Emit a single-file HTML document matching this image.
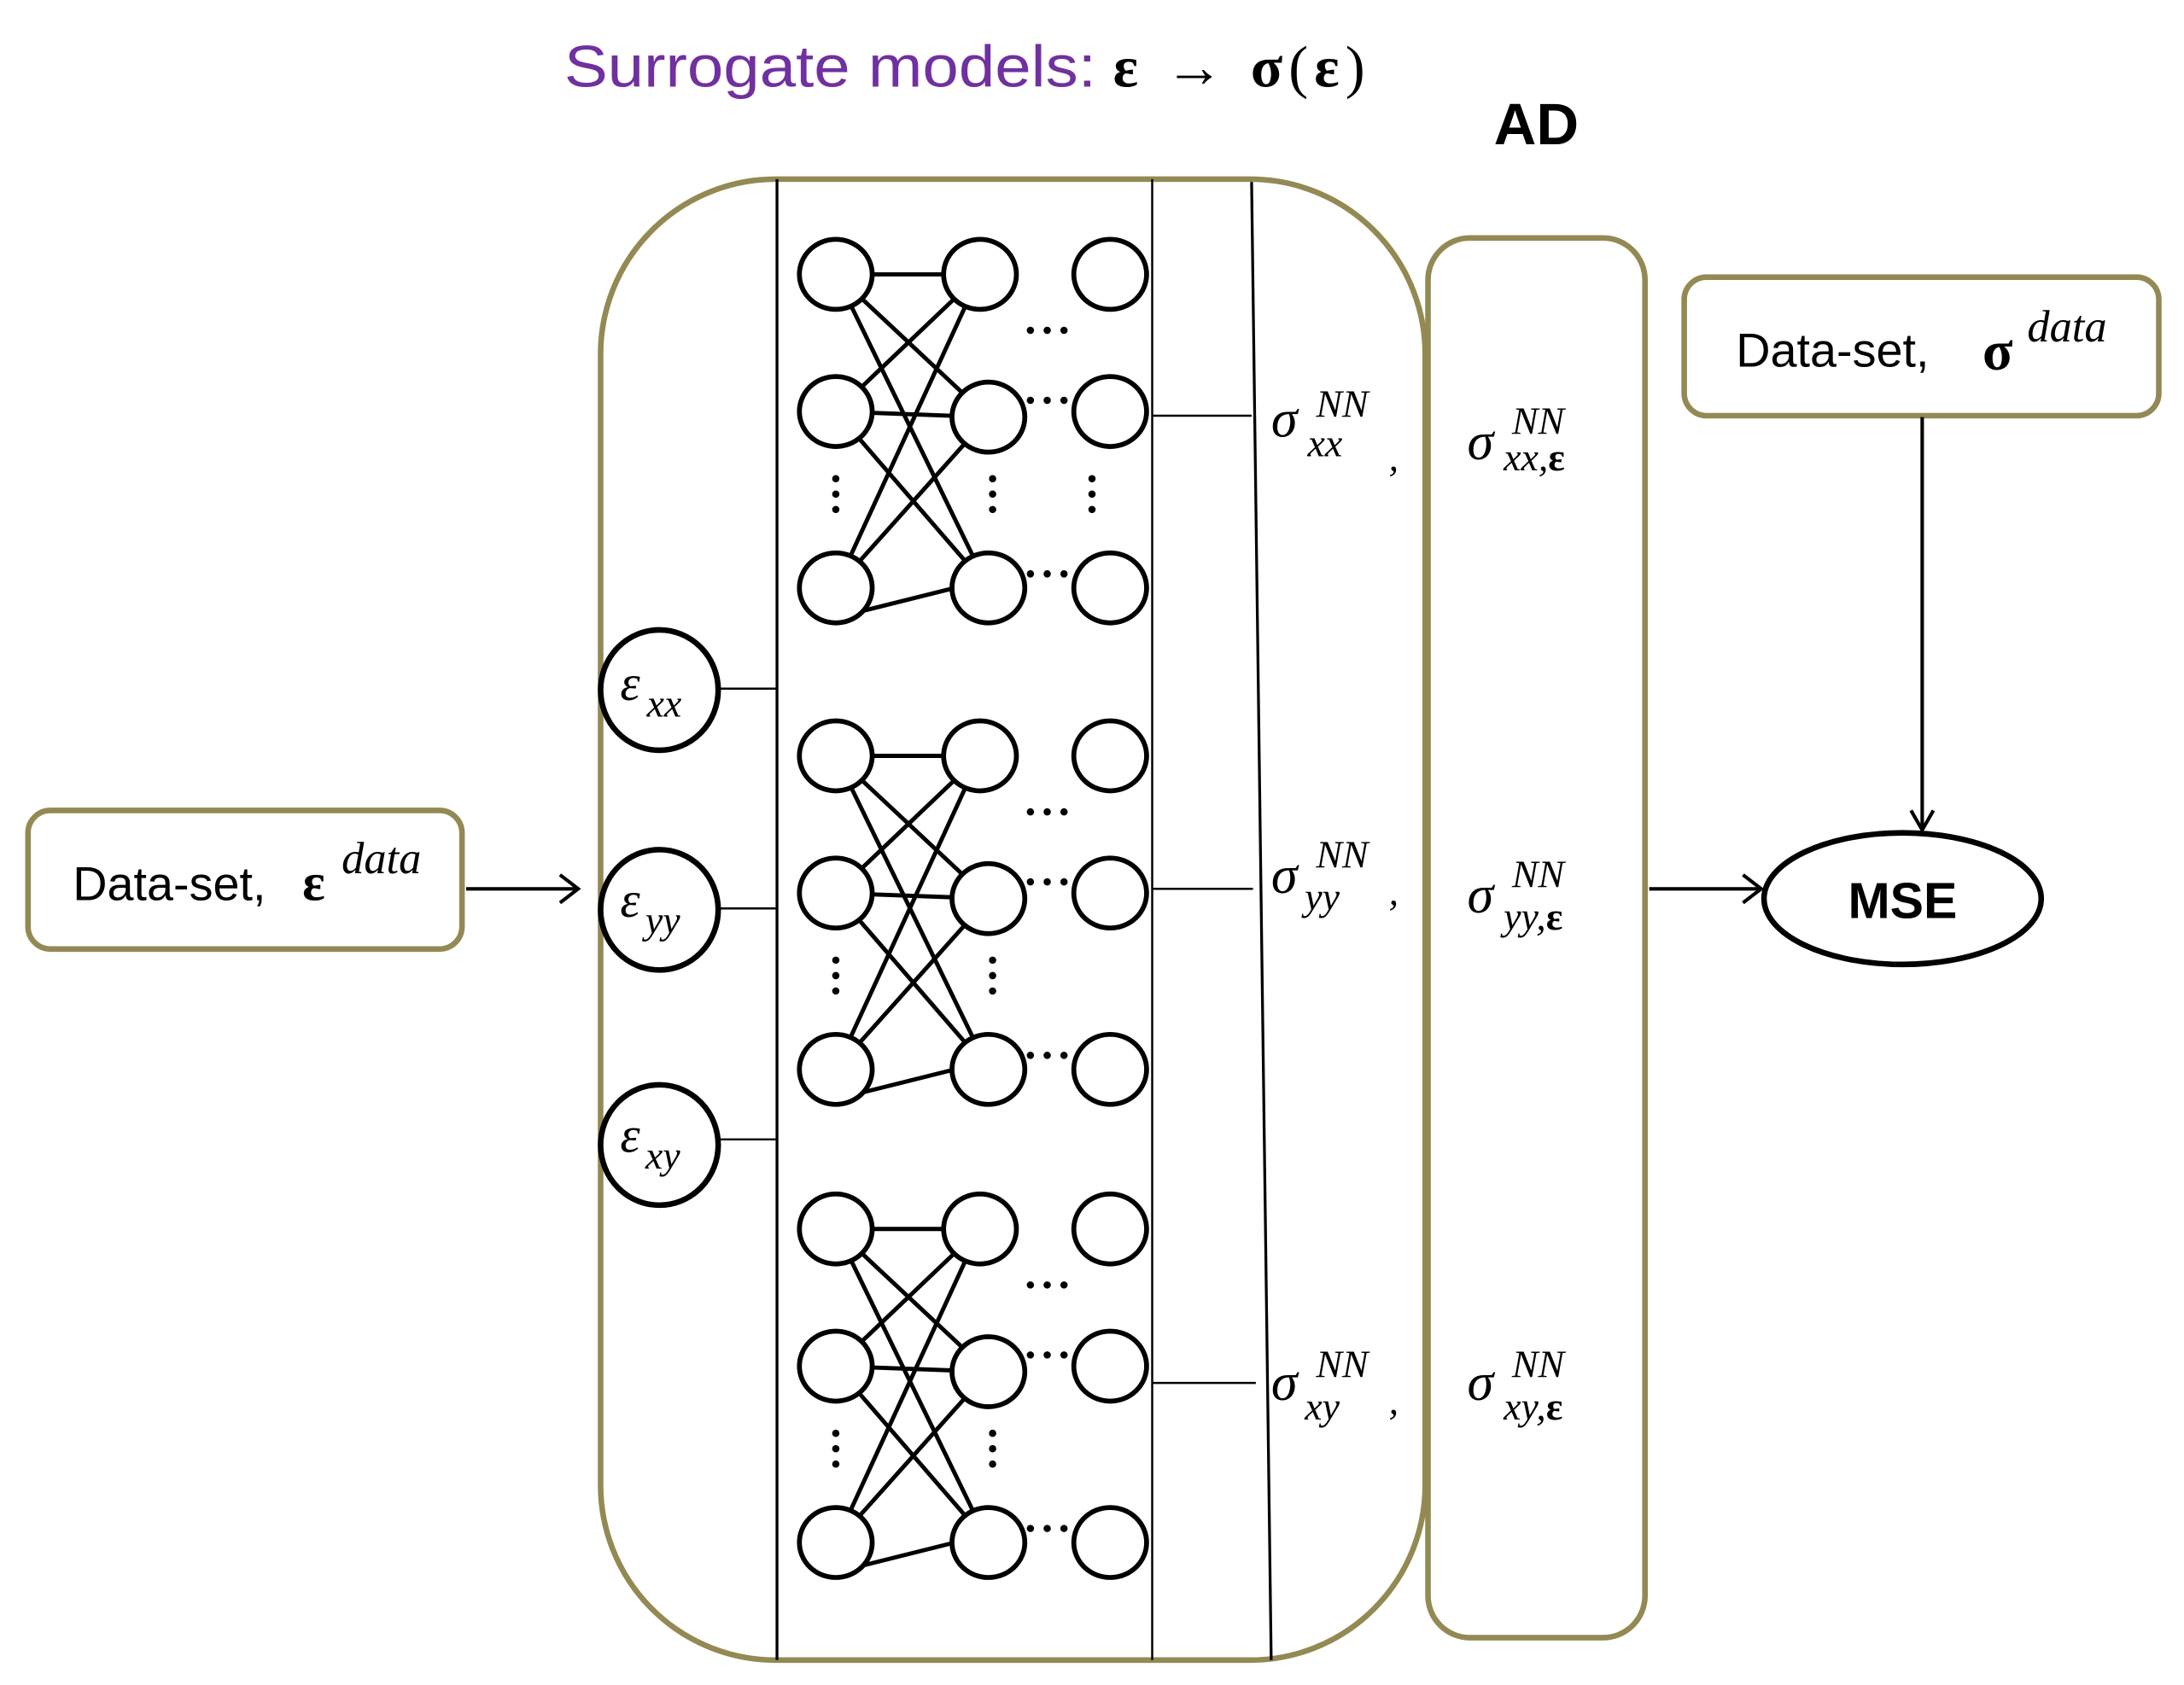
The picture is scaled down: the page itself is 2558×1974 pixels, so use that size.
<!DOCTYPE html>
<html><head><meta charset="utf-8"><style>
html,body{margin:0;padding:0;background:#fff;}
svg{display:block;}
</style></head><body>
<svg width="2558" height="1974" viewBox="0 0 1560 1203.8" preserveAspectRatio="none" xmlns="http://www.w3.org/2000/svg">
<defs>
<g id="net">
 <g stroke="#000" stroke-width="3">
  <line x1="597" y1="196" x2="700" y2="196"/>
  <line x1="597" y1="196" x2="706" y2="298"/>
  <line x1="597" y1="196" x2="706" y2="420"/>
  <line x1="597" y1="294" x2="700" y2="196"/>
  <line x1="597" y1="294" x2="706" y2="298"/>
  <line x1="597" y1="294" x2="706" y2="420"/>
  <line x1="597" y1="420" x2="700" y2="196"/>
  <line x1="597" y1="420" x2="706" y2="298"/>
  <line x1="610" y1="438" x2="706" y2="414"/>
 </g>
 <g fill="#fff" stroke="#000" stroke-width="3.5">
  <ellipse cx="597" cy="196" rx="26" ry="25"/>
  <ellipse cx="700" cy="196" rx="26" ry="25"/>
  <ellipse cx="793" cy="196" rx="26" ry="25"/>
  <ellipse cx="597" cy="294" rx="26" ry="25"/>
  <ellipse cx="706" cy="298" rx="26" ry="25"/>
  <ellipse cx="793" cy="294" rx="26" ry="25"/>
  <ellipse cx="597" cy="420" rx="26" ry="25"/>
  <ellipse cx="706" cy="420" rx="26" ry="25"/>
  <ellipse cx="793" cy="420" rx="26" ry="25"/>
 </g>
 <g fill="#000">
  <circle cx="736" cy="236" r="2.6"/><circle cx="748" cy="236" r="2.6"/><circle cx="760" cy="236" r="2.6"/>
  <circle cx="736" cy="286" r="2.6"/><circle cx="748" cy="286" r="2.6"/><circle cx="760" cy="286" r="2.6"/>
  <circle cx="736" cy="410" r="2.6"/><circle cx="748" cy="410" r="2.6"/><circle cx="760" cy="410" r="2.6"/>
  <circle cx="597" cy="342" r="2.6"/><circle cx="597" cy="353" r="2.6"/><circle cx="597" cy="364" r="2.6"/>
  <circle cx="709" cy="342" r="2.6"/><circle cx="709" cy="353" r="2.6"/><circle cx="709" cy="364" r="2.6"/>
 </g>
</g>
</defs>

<!-- title -->
<text x="403" y="62" font-family="Liberation Sans, sans-serif" font-size="42" fill="#7030A0" textLength="380" lengthAdjust="spacingAndGlyphs">Surrogate models:</text>
<text x="795" y="62" font-family="Liberation Serif, serif" font-size="42" fill="#000" textLength="180" lengthAdjust="spacing"><tspan font-weight="bold">ε</tspan> → <tspan font-weight="bold">σ</tspan>(<tspan font-weight="bold">ε</tspan>)</text>
<text x="1067" y="103" font-family="Liberation Sans, sans-serif" font-size="42" font-weight="bold" fill="#000">AD</text>

<!-- big box -->
<rect x="429" y="128" width="589" height="1058" rx="125" ry="125" fill="none" stroke="#938953" stroke-width="4"/>
<line x1="555" y1="128" x2="555" y2="1186" stroke="#000" stroke-width="2"/>
<line x1="823" y1="128" x2="823" y2="1186" stroke="#000" stroke-width="1.5"/>
<line x1="894" y1="130" x2="908" y2="1186" stroke="#000" stroke-width="2"/>

<!-- AD box -->
<rect x="1020" y="170" width="155" height="1000" rx="30" ry="30" fill="none" stroke="#938953" stroke-width="4"/>

<!-- data boxes -->
<rect x="1203" y="198" width="339" height="99" rx="16" ry="16" fill="none" stroke="#938953" stroke-width="4"/>
<text x="1240" y="262" font-family="Liberation Sans, sans-serif" font-size="34" fill="#000">Data-set,</text>
<text x="1416" y="264" font-family="Liberation Serif, serif" font-size="40" font-weight="bold" fill="#000">σ</text>
<text x="1448" y="244" font-family="Liberation Serif, serif" font-size="32" font-style="italic" fill="#000">data</text>

<rect x="20" y="579" width="310" height="99" rx="16" ry="16" fill="none" stroke="#938953" stroke-width="4"/>
<text x="52" y="643" font-family="Liberation Sans, sans-serif" font-size="34" fill="#000">Data-set,</text>
<text x="216" y="643" font-family="Liberation Serif, serif" font-size="38" font-weight="bold" fill="#000">ε</text>
<text x="244" y="624" font-family="Liberation Serif, serif" font-size="32" font-style="italic" fill="#000">data</text>

<!-- arrows -->
<g stroke="#000" stroke-width="2.5" fill="none">
 <line x1="333" y1="635" x2="412" y2="635"/>
 <polyline points="400,625 413,635 400,645"/>
 <line x1="1178" y1="635" x2="1257" y2="635"/>
 <polyline points="1245,625 1258,635 1245,645"/>
 <line x1="1373" y1="298" x2="1373" y2="592"/>
 <polyline points="1365,579 1373,593 1381,579"/>
</g>

<!-- MSE -->
<ellipse cx="1359" cy="642" rx="99" ry="47" fill="#fff" stroke="#000" stroke-width="4"/>
<text x="1359" y="656" text-anchor="middle" font-family="Liberation Sans, sans-serif" font-size="36" font-weight="bold" fill="#000">MSE</text>

<!-- input epsilons -->
<g stroke="#000" stroke-width="1.5">
 <line x1="513" y1="492" x2="555" y2="492"/>
 <line x1="513" y1="649" x2="555" y2="649"/>
 <line x1="513" y1="814" x2="555" y2="814"/>
</g>
<g fill="#fff" stroke="#000" stroke-width="4">
 <ellipse cx="471" cy="493" rx="42" ry="43"/>
 <ellipse cx="471" cy="650" rx="42" ry="43"/>
 <ellipse cx="471" cy="818" rx="42" ry="43"/>
</g>
<g font-family="Liberation Serif, serif" font-style="italic" fill="#000">
 <text x="443" y="500" font-size="36">ε</text><text x="462" y="512" font-size="28">xx</text>
 <text x="443" y="655" font-size="36">ε</text><text x="461" y="667" font-size="28">yy</text>
 <text x="443" y="823" font-size="36">ε</text><text x="461" y="835" font-size="28">xy</text>
</g>

<!-- nets -->
<use href="#net"/>
<use href="#net" transform="translate(0,344)"/>
<use href="#net" transform="translate(0,682)"/>
<g fill="#000"><circle cx="780" cy="342" r="2.6"/><circle cx="780" cy="353" r="2.6"/><circle cx="780" cy="364" r="2.6"/></g>

<!-- outputs -->
<g stroke="#000" stroke-width="1.5">
 <line x1="823" y1="297" x2="894" y2="297"/>
 <line x1="823" y1="635" x2="895" y2="635"/>
 <line x1="823" y1="988" x2="897" y2="988"/>
</g>
<g font-family="Liberation Serif, serif" font-style="italic" fill="#000">
 <text x="908" y="312" font-size="38">σ</text><text x="940" y="298" font-size="28">NN</text><text x="934" y="326" font-size="28">xx</text><text x="992" y="336" font-size="28">,</text>
 <text x="908" y="638" font-size="38">σ</text><text x="940" y="620" font-size="28">NN</text><text x="932" y="650" font-size="28">yy</text><text x="992" y="646" font-size="28">,</text>
 <text x="908" y="1000" font-size="38">σ</text><text x="940" y="984" font-size="28">NN</text><text x="932" y="1014" font-size="28">xy</text><text x="992" y="1010" font-size="28">,</text>

 <text x="1048" y="328" font-size="38">σ</text><text x="1080" y="310" font-size="28">NN</text><text x="1074" y="336" font-size="28">xx,<tspan font-style="normal" font-weight="bold">ε</tspan></text>
 <text x="1048" y="652" font-size="38">σ</text><text x="1080" y="634" font-size="28">NN</text><text x="1074" y="664" font-size="28">yy,<tspan font-style="normal" font-weight="bold">ε</tspan></text>
 <text x="1048" y="1000" font-size="38">σ</text><text x="1080" y="984" font-size="28">NN</text><text x="1074" y="1014" font-size="28">xy,<tspan font-style="normal" font-weight="bold">ε</tspan></text>
</g>
</svg>
</body></html>
